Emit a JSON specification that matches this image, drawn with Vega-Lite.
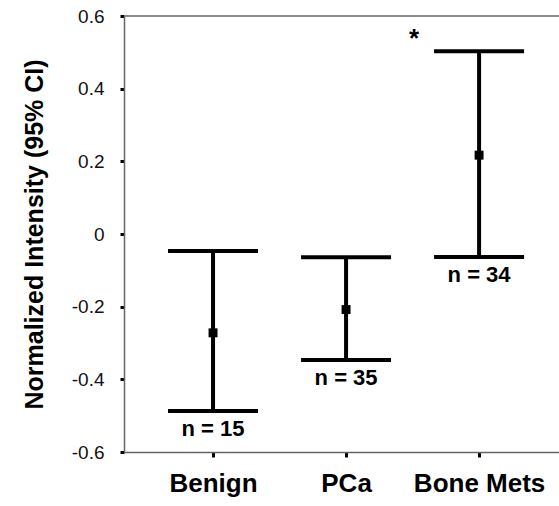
{
  "$schema": "https://vega.github.io/schema/vega-lite/v6.json",
  "width": 435,
  "height": 436,
  "autosize": "none",
  "padding": {"left": 124, "top": 16, "right": 0, "bottom": 54},
  "background": "white",
  "config": {"view": {"stroke": null}, "font": "Liberation Sans"},
  "data": {"values": [
    {"group": "Benign", "mean": -0.272, "lower": -0.487, "upper": -0.047, "n": "n = 15"},
    {"group": "PCa", "mean": -0.208, "lower": -0.347, "upper": -0.064, "n": "n = 35"},
    {"group": "Bone Mets", "mean": 0.217, "lower": -0.063, "upper": 0.503, "n": "n = 34"}
  ]},
  "layer": [
    {
      "mark": {"type": "rule", "color": "black", "strokeWidth": 4},
      "encoding": {
        "x": {"field": "group", "type": "nominal", "sort": null,
          "scale": {"type": "point", "padding": 0.635, "align": 0.527},
          "axis": {"title": null, "labelAngle": 0, "labelFontSize": 26, "labelFontWeight": "bold", "labelColor": "black",
            "labelPadding": 13, "domainColor": "#666", "domainWidth": 1.5, "tickColor": "black", "tickWidth": 3, "tickSize": 5}},
        "y": {"field": "lower", "type": "quantitative",
          "scale": {"domain": [-0.6, 0.6], "nice": false},
          "axis": {"title": "Normalized Intensity (95% CI)", "titleFontSize": 25, "titleFontWeight": "bold", "titleColor": "black",
            "titlePadding": 24, "labelFontSize": 19, "labelColor": "#111", "labelPadding": 16,
            "values": [-0.6, -0.4, -0.2, 0, 0.2, 0.4, 0.6], "grid": false,
            "labelExpr": "datum.value == 0 ? '0' : replace(format(datum.value, '.1f'), '\u2212', '-')",
            "tickColor": "black", "tickWidth": 3, "tickSize": 4, "domainColor": "#666", "domainWidth": 1.5}},
        "y2": {"field": "upper"}
      }
    },
    {
      "mark": {"type": "tick", "size": 90, "thickness": 4, "color": "black", "opacity": 1},
      "encoding": {
        "x": {"field": "group", "type": "nominal", "sort": null},
        "y": {"field": "upper", "type": "quantitative"}
      }
    },
    {
      "mark": {"type": "tick", "size": 90, "thickness": 4, "color": "black", "opacity": 1},
      "encoding": {
        "x": {"field": "group", "type": "nominal", "sort": null},
        "y": {"field": "lower", "type": "quantitative"}
      }
    },
    {
      "mark": {"type": "square", "size": 80, "color": "black", "opacity": 1, "filled": true},
      "encoding": {
        "x": {"field": "group", "type": "nominal", "sort": null},
        "y": {"field": "mean", "type": "quantitative"}
      }
    },
    {
      "mark": {"type": "text", "fontSize": 22, "fontWeight": "bold", "baseline": "middle", "dy": 18, "color": "black"},
      "encoding": {
        "x": {"field": "group", "type": "nominal", "sort": null},
        "y": {"field": "lower", "type": "quantitative"},
        "text": {"field": "n"}
      }
    },
    {
      "data": {"values": [{"group": "Bone Mets", "y": 0.55, "label": "*"}]},
      "mark": {"type": "text", "fontSize": 26, "fontWeight": "bold", "baseline": "middle", "dx": -65, "dy": 5, "color": "black"},
      "encoding": {
        "x": {"field": "group", "type": "nominal", "sort": null},
        "y": {"field": "y", "type": "quantitative"},
        "text": {"field": "label"}
      }
    },
    {
      "data": {"values": [{"top": 0.6}]},
      "mark": {"type": "rule", "color": "#666", "strokeWidth": 1.5},
      "encoding": {
        "y": {"field": "top", "type": "quantitative"}
      }
    }
  ]
}
